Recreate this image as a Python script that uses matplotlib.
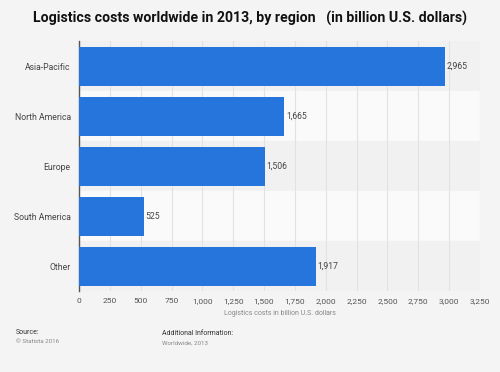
import matplotlib.pyplot as plt
import numpy as np

regions = ["Asia-Pacific", "North America", "Europe", "South America", "Other"]
costs = [2965, 1665, 1506, 525, 1917]
x_ticks = [0, 250, 500, 750, 1000, 1250, 1500, 1750, 2000, 2250, 2500, 2750, 3000, 3250]

BG = "#f4f4f4"
BAR = "#2675dc"

plt.rcParams["font.family"] = ["Roboto", "DejaVu Sans"]

fig = plt.figure(figsize=(5, 3.72), dpi=100, facecolor=BG)
ax = fig.add_axes([0.158, 0.2177, 0.802, 0.672])
ax.set_facecolor(BG)

y = np.arange(len(regions))
# alternating row bands
for i in y:
    ax.axhspan(i - 0.5, i + 0.5, color="#f1f1f1" if i % 2 == 0 else "#fafafa", zorder=0)

ax.barh(y, costs, height=0.78, color=BAR, zorder=3)
for yi, v in zip(y, costs):
    ax.text(v + 15, yi, f"{v:,}", va="center", ha="left", fontsize=6.2, color="#444444", zorder=4)

ax.set_xlim(0, 3250)
ax.set_ylim(len(regions) - 0.5, -0.5)
ax.set_yticks(y)
ax.set_yticklabels(regions, fontsize=6.2, color="#444444")
ax.set_xticks(x_ticks)
ax.set_xticklabels([f"{t:,}" for t in x_ticks], fontsize=6, color="#555555")
ax.tick_params(axis="y", length=0, pad=6)
ax.tick_params(axis="x", length=0, pad=5)
ax.grid(axis="x", color="#e2e2e2", linewidth=0.8, zorder=1)
ax.set_axisbelow(True)
for s in ["top", "right", "bottom"]:
    ax.spines[s].set_visible(False)
ax.spines["left"].set_color("#555555")
ax.spines["left"].set_linewidth(1.0)

ax.set_xlabel("Logistics costs in billion U.S. dollars", fontsize=5, color="#888888", labelpad=4)

fig.text(0.5, 0.95, "Logistics costs worldwide in 2013, by region   (in billion U.S. dollars)",
         ha="center", va="center", fontsize=10.2, fontweight="bold", color="#111111")

fig.text(0.032, 0.107, "Source:", fontsize=5, color="#333333", va="center")
fig.text(0.032, 0.083, "© Statista 2016", fontsize=4.5, color="#888888", va="center")
fig.text(0.323, 0.104, "Additional Information:", fontsize=5, color="#333333", va="center")
fig.text(0.323, 0.078, "Worldwide, 2013", fontsize=4.5, color="#888888", va="center")

fig.savefig("out.png", dpi=100, facecolor=BG)
